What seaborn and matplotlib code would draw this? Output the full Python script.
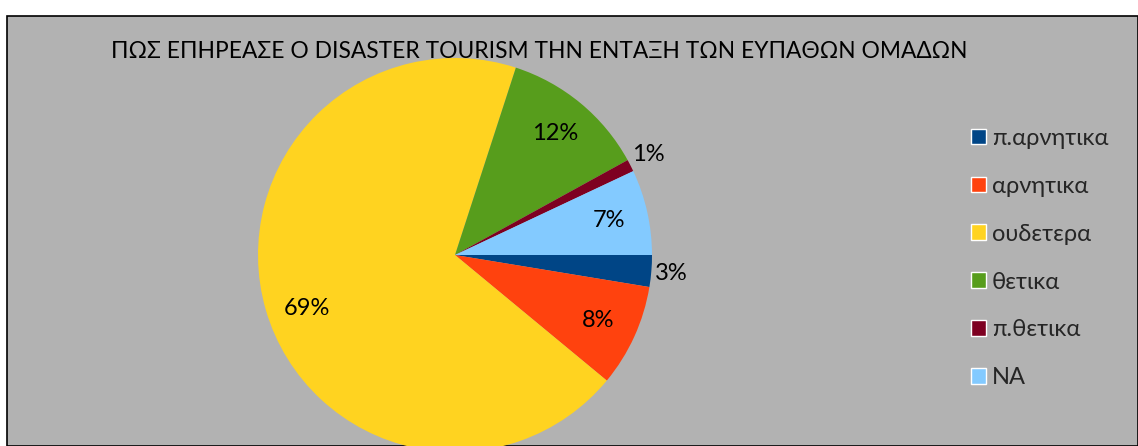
import matplotlib.pyplot as plt
import numpy as np
import seaborn as sns
from matplotlib.patches import Rectangle

# data
categories = ["π.αρνητικα", "αρνητικα", "ουδετερα", "θετικα", "π.θετικα", "NA"]
shares = [2.6, 8.4, 69.0, 12.0, 1.0, 7.0]
colors = ["#004586", "#ff420e", "#ffd320", "#579d1c", "#7e0021", "#83caff"]
title = "ΠΩΣ ΕΠΗΡΕΑΣΕ Ο DISASTER TOURISM ΤΗΝ ΕΝΤΑΞΗ ΤΩΝ ΕΥΠΑΘΩΝ ΟΜΑΔΩΝ"

sns.set_theme(style="white")
plt.rcParams["font.family"] = ["Lato", "DejaVu Sans"]

W, H = 1138, 446
fig = plt.figure(figsize=(W / 100, H / 100), dpi=100)
fig.patch.set_facecolor("white")

# chart area (grey panel with black frame)
top = 16
panel = Rectangle((7 / W, 0), 1 - 7 / W, 1 - top / H, transform=fig.transFigure,
                  facecolor="#b2b2b2", edgecolor="black", linewidth=1.2, zorder=-5)
fig.patches.append(panel)

fig.text(539 / W, 1 - 52 / H, title, ha="center", va="center", fontsize=16.4, color="black")

cx, cy, r = 455, 255, 197
ax = fig.add_axes([(cx - r) / W, (H - cy - r) / H, 2 * r / W, 2 * r / H])
palette = sns.color_palette(colors)
wedges, texts, autotexts = ax.pie(
    shares,
    colors=palette,
    startangle=0,
    counterclock=False,
    autopct="%1.0f%%",
    pctdistance=0.8,
    textprops={"fontsize": 17, "color": "black"},
    wedgeprops={"linewidth": 0},
)
ax.set_xlim(-1, 1)
ax.set_ylim(-1, 1)
ax.set_aspect("auto")
ax.axis("off")

# small slices get their label outside the pie
for w, t, v in zip(wedges, autotexts, shares):
    if v < 5:
        ang = np.deg2rad((w.theta1 + w.theta2) / 2)
        t.set_position((1.1 * np.cos(ang), 1.12 * np.sin(ang)))
    elif v > 50:
        ang = np.deg2rad((w.theta1 + w.theta2) / 2 + 3.5)
        t.set_position((0.8 * np.cos(ang), 0.8 * np.sin(ang)))
    t.set_clip_on(False)

handles = [Rectangle((0, 0), 1, 1, facecolor=c) for c in palette]
fig.legend(handles, categories, loc="upper left", bbox_to_anchor=(959 / W, 1 - 116 / H),
           frameon=False, fontsize=17, handlelength=0.65, handleheight=0.65,
           handletextpad=0.25, labelspacing=1.14, borderpad=0)

fig.savefig("out.png", dpi=100)
